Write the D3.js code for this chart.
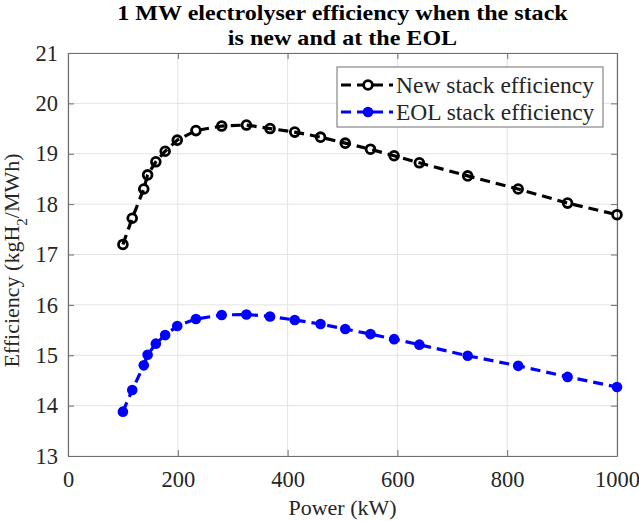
<!DOCTYPE html>
<html>
<head>
<meta charset="utf-8">
<script src="https://cdn.jsdelivr.net/npm/d3@7"></script>
<style>
  body { margin: 0; background: #fff; }
  svg { display: block; font-family: "Liberation Serif", "Times New Roman", serif; }
  svg text { font-family: "Liberation Serif", "Times New Roman", serif; }
</style>
</head>
<body>
<svg id="chart" width="639" height="521"></svg>
<script>
// data
const power = [100, 117, 138, 145, 160, 177, 199, 233, 280, 325, 368, 413, 460, 505, 551, 594, 640, 728, 820, 910, 1000];
const newStack = [17.2, 17.72, 18.3, 18.58, 18.84, 19.05, 19.27, 19.46, 19.55, 19.57, 19.5, 19.43, 19.33, 19.21, 19.09, 18.96, 18.82, 18.56, 18.3, 18.02, 17.79];
const eolStack = [13.88, 14.31, 14.8, 15.01, 15.23, 15.4, 15.58, 15.72, 15.8, 15.81, 15.77, 15.7, 15.62, 15.52, 15.42, 15.32, 15.21, 14.99, 14.79, 14.57, 14.37];
const xTicks = [0, 200, 400, 600, 800, 1000];
const yTicks = [13, 14, 15, 16, 17, 18, 19, 20, 21];
const seriesNames = ['New stack efficiency', 'EOL stack efficiency'];

const margin = { top: 53, right: 22, bottom: 65, left: 68 };
const width = 639, height = 521;
const plotW = width - margin.left - margin.right;
const plotH = height - margin.top - margin.bottom;
const serif = '"Liberation Serif", "Times New Roman", serif';

const svg = d3.select('#chart');
const g = svg.append('g').attr('transform', `translate(${margin.left},${margin.top})`);

const x = d3.scaleLinear().domain([0, 1000]).range([0, plotW]);
const y = d3.scaleLinear().domain([13, 21]).range([plotH, 0]);

const axisColor = '#6e6e6e';
const textColor = '#262626';

// gridlines
g.append('g')
  .selectAll('line')
  .data(xTicks)
  .join('line')
  .attr('x1', (d) => x(d)).attr('x2', (d) => x(d))
  .attr('y1', 0).attr('y2', plotH)
  .attr('stroke', '#e3e3e3').attr('stroke-width', 1);
g.append('g')
  .selectAll('line')
  .data(yTicks)
  .join('line')
  .attr('y1', (d) => y(d)).attr('y2', (d) => y(d))
  .attr('x1', 0).attr('x2', plotW)
  .attr('stroke', '#e3e3e3').attr('stroke-width', 1);

// axes (ticks inward, box on)
function styleAxis(sel) {
  sel.attr('font-family', serif).attr('font-size', 22);
  sel.select('.domain').attr('stroke', axisColor).attr('stroke-width', 1.2);
  sel.selectAll('.tick line').attr('stroke', axisColor).attr('stroke-width', 1);
  sel.selectAll('.tick text')
    .attr('fill', textColor)
    .style('font-family', serif)
    .style('font-size', '22.5px');
}

g.append('g')
  .attr('transform', `translate(0,${plotH})`)
  .call(d3.axisBottom(x).tickValues(xTicks).tickSize(-6).tickSizeOuter(0).tickPadding(15).tickFormat(d3.format('d')))
  .call(styleAxis);
g.append('g')
  .call(d3.axisTop(x).tickValues(xTicks).tickSize(-6).tickSizeOuter(0).tickFormat(''))
  .call(styleAxis);
g.append('g')
  .call(d3.axisLeft(y).tickValues(yTicks).tickSize(-6).tickSizeOuter(0).tickPadding(10))
  .call(styleAxis);
g.append('g')
  .attr('transform', `translate(${plotW},0)`)
  .call(d3.axisRight(y).tickValues(yTicks).tickSize(-6).tickSizeOuter(0).tickFormat(''))
  .call(styleAxis);

// series
const line = d3.line().x((d) => x(d[0])).y((d) => y(d[1]));
const newPts = power.map((p, i) => [p, newStack[i]]);
const eolPts = power.map((p, i) => [p, eolStack[i]]);

g.append('path')
  .datum(eolPts)
  .attr('d', line)
  .attr('fill', 'none')
  .attr('stroke', '#0000ff')
  .attr('stroke-width', 3.2)
  .attr('stroke-dasharray', '10,6');
g.append('g')
  .selectAll('circle')
  .data(eolPts)
  .join('circle')
  .attr('cx', (d) => x(d[0]))
  .attr('cy', (d) => y(d[1]))
  .attr('r', 5.3)
  .attr('fill', '#0000ff');

g.append('path')
  .datum(newPts)
  .attr('d', line)
  .attr('fill', 'none')
  .attr('stroke', '#000')
  .attr('stroke-width', 3.2)
  .attr('stroke-dasharray', '10,6');
g.append('g')
  .selectAll('circle')
  .data(newPts)
  .join('circle')
  .attr('cx', (d) => x(d[0]))
  .attr('cy', (d) => y(d[1]))
  .attr('r', 4.4)
  .attr('fill', 'none')
  .attr('stroke', '#000')
  .attr('stroke-width', 2.8);

// legend
const legend = g.append('g').attr('transform', `translate(${plotW - 280},14)`);
legend.append('rect')
  .attr('width', 266).attr('height', 60)
  .attr('fill', '#fff')
  .attr('stroke', axisColor).attr('stroke-width', 1);
const legItems = [
  { name: seriesNames[0], color: '#000', open: true },
  { name: seriesNames[1], color: '#0000ff', open: false },
];
legItems.forEach((it, i) => {
  const ly = 18 + i * 27;
  const row = legend.append('g').attr('transform', `translate(0,${ly})`);
  row.append('line')
    .attr('x1', 4).attr('x2', 56).attr('y1', 0).attr('y2', 0)
    .attr('stroke', it.color).attr('stroke-width', 3.2)
    .attr('stroke-dasharray', '10,6');
  row.append('circle')
    .attr('cx', 31).attr('cy', 0)
    .attr('r', it.open ? 4.4 : 5.3)
    .attr('fill', it.open ? '#fff' : it.color)
    .attr('stroke', it.open ? it.color : 'none')
    .attr('stroke-width', 2.8);
  row.append('text')
    .attr('x', 59).attr('y', 0).attr('dy', '0.33em')
    .attr('fill', textColor)
    .style('font-size', '23.5px')
    .text(it.name);
});

// title (the reference text is a little stretched sideways)
const title = svg.append('text')
  .attr('transform', `translate(${margin.left + plotW / 2},0) scale(1.12,1)`)
  .attr('text-anchor', 'middle')
  .attr('fill', '#000')
  .style('font-size', '21.5px')
  .style('font-weight', 'bold');
title.append('tspan').attr('x', 0).attr('y', 20).text('1 MW electrolyser efficiency when the stack');
title.append('tspan').attr('x', 0).attr('y', 45).text('is new and at the EOL');

// axis labels
svg.append('text')
  .attr('x', margin.left + plotW / 2)
  .attr('y', 515)
  .attr('text-anchor', 'middle')
  .attr('fill', textColor)
  .style('font-size', '22px')
  .text('Power (kW)');

const yl = svg.append('text')
  .attr('transform', `translate(19,${margin.top + plotH / 2 + 6}) rotate(-90)`)
  .attr('text-anchor', 'middle')
  .attr('fill', textColor)
  .style('font-size', '22px');
yl.append('tspan').text('Efficiency (kgH');
yl.append('tspan').attr('baseline-shift', 'sub').style('font-size', '15px').text('2');
yl.append('tspan').text('/MWh)');
</script>
</body>
</html>
